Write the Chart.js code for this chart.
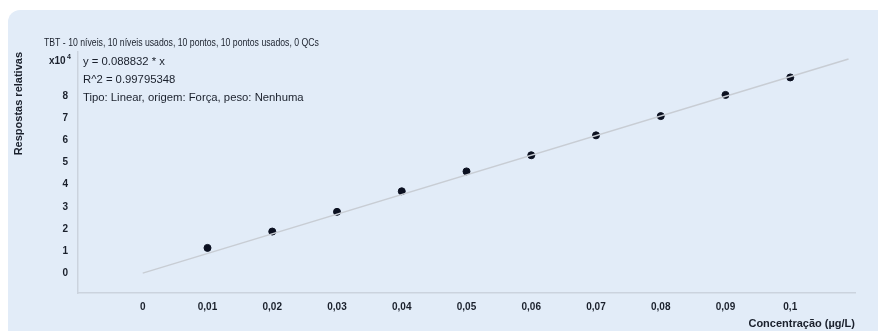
<!DOCTYPE html>
<html>
<head>
<meta charset="utf-8">
<script src="https://cdn.jsdelivr.net/npm/chart.js@4"></script>
<style>
  html, body { margin: 0; padding: 0; background: #ffffff; }
  #wrap { position: relative; width: 878px; height: 331px; overflow: hidden; }
  #panel { position: absolute; left: 8px; top: 10px; width: 900px; height: 360px;
           background: #e2ecf8; border-radius: 12px; }
  #box { position: absolute; left: 0; top: 0; width: 878px; height: 331px; }
</style>
</head>
<body>
<div id="wrap">
  <div id="panel"></div>
  <div id="box"><canvas id="calChart"></canvas></div>
</div>
<script>
    // pontos de calibracao (concentracao, resposta x10^4)
    const concentrations = [0.01, 0.02, 0.03, 0.04, 0.05, 0.06, 0.07, 0.08, 0.09, 0.1];
    const responses = [1.14, 1.88, 2.77, 3.70, 4.60, 5.33, 6.23, 7.10, 8.06, 8.85];

    // reta ajustada
    const fitX = [0, 0.109];
    const fitY = [0, 9.68];

    const xTicks = [0, 0.01, 0.02, 0.03, 0.04, 0.05, 0.06, 0.07, 0.08, 0.09, 0.1];
    const yTicks = [0, 1, 2, 3, 4, 5, 6, 7, 8];

    const titleText = 'TBT - 10 níveis, 10 níveis usados, 10 pontos, 10 pontos usados, 0 QCs';
    const infoLines = ['y = 0.088832 * x', 'R^2 = 0.99795348', 'Tipo: Linear, origem: Força, peso: Nenhuma'];

    const fontFamily = '"Liberation Sans", Arial, sans-serif';
    const textColor = '#1a202c';

    //textos extras
    const extraText = {
        id: 'extraText',
        afterDraw(chart) {
            const ctx = chart.ctx;
            ctx.save();
            ctx.fillStyle = textColor;
            ctx.textBaseline = 'middle';
            ctx.textAlign = 'left';
            // titulo (fonte estreita)
            ctx.save();
            ctx.translate(44, 43);
            ctx.scale(0.79, 1);
            ctx.font = '11px ' + fontFamily;
            ctx.fillText(titleText, 0, 0);
            ctx.restore();
            ctx.font = '11.3px ' + fontFamily;
            infoLines.forEach((line, i) => {
                ctx.fillText(line, 83, 62 + i * 18);
            });
            ctx.font = 'bold 10px ' + fontFamily;
            ctx.fillText('x10', 49, 61);
            ctx.font = 'bold 7px ' + fontFamily;
            ctx.fillText('4', 67, 57);
            ctx.restore();
        }
    };

    let ctxChart = document.getElementById('calChart');
    let calChart = new Chart(ctxChart, {
        data: {
            datasets: [
                {
                    type: 'line',
                    data: fitX.map((x, i) => ({ x: x, y: fitY[i] })),
                    borderColor: '#c8cdd4',
                    borderWidth: 1.5,
                    pointRadius: 0,
                    fill: false
                },
                {
                    type: 'scatter',
                    data: concentrations.map((x, i) => ({ x: x, y: responses[i] })),
                    backgroundColor: '#0b1020',
                    borderColor: '#0b1020',
                    pointRadius: 3.5
                }
            ]
        },
        options: {
            responsive: true,
            maintainAspectRatio: false,
            animation: false,
            layout: { padding: { top: 52, right: 23, left: 0, bottom: 0 } },
            plugins: {
                legend: { display: false },
                tooltip: { enabled: false }
            },
            scales: {
                x: {
                    type: 'linear',
                    min: -0.01,
                    max: 0.11,
                    afterBuildTicks: (scale) => { scale.ticks = xTicks.map(v => ({ value: v })); },
                    afterFit: (scale) => { scale.height = 38; },
                    grid: { display: false, drawTicks: false },
                    border: { color: '#cbd3de', width: 1.5 },
                    ticks: {
                        color: textColor,
                        padding: 8,
                        maxRotation: 0,
                        font: { family: fontFamily, size: 10, weight: 'bold' },
                        callback: (v) => String(Math.round(v * 100) / 100).replace('.', ',')
                    },
                    title: {
                        display: true,
                        text: 'Concentração (µg/L)',
                        align: 'end',
                        color: textColor,
                        padding: { top: 0, bottom: 0 },
                        font: { family: fontFamily, size: 11, weight: 'bold' }
                    }
                },
                y: {
                    min: -0.9,
                    max: 10,
                    afterBuildTicks: (scale) => { scale.ticks = yTicks.map(v => ({ value: v })); },
                    afterFit: (scale) => { scale.width = 78; },
                    grid: { display: false, drawTicks: false },
                    border: { color: '#cbd3de', width: 1.5 },
                    ticks: {
                        color: textColor,
                        padding: 10,
                        font: { family: fontFamily, size: 10, weight: 'bold' }
                    },
                    title: {
                        display: true,
                        text: 'Respostas relativas',
                        align: 'end',
                        color: textColor,
                        padding: { top: 12, bottom: 0 },
                        font: { family: fontFamily, size: 11, weight: 'bold' }
                    }
                }
            }
        },
        plugins: [extraText]
    });
</script>
</body>
</html>
